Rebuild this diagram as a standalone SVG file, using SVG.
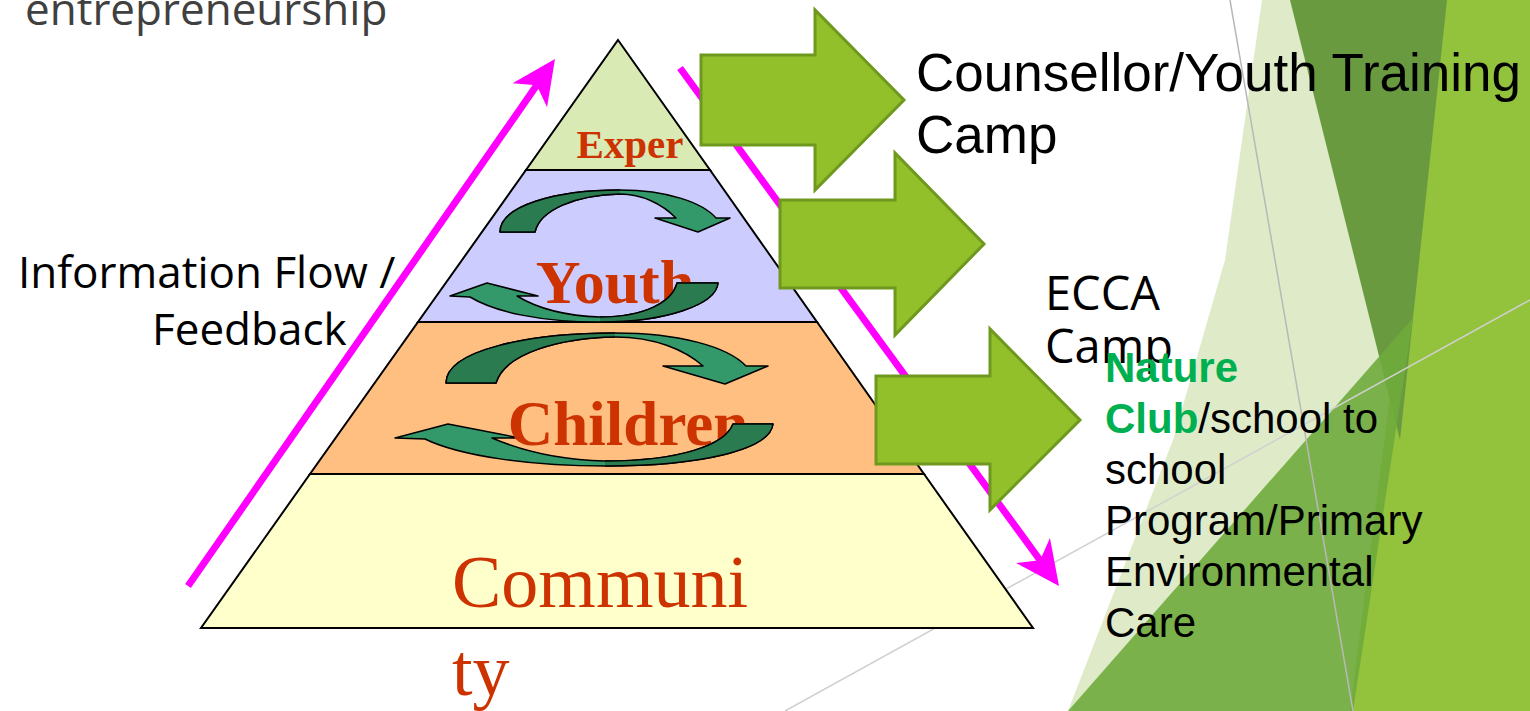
<svg xmlns="http://www.w3.org/2000/svg" width="1530" height="711" viewBox="0 0 1530 711">
<defs>
<style>
.layer{stroke:#000;stroke-width:2;stroke-linejoin:miter}
.lbl{font-family:"Liberation Serif","Times New Roman",serif;fill:#cc3300}
.b{font-weight:bold}
.lt{fill:#34996a;stroke:#000;stroke-width:1.5;stroke-linejoin:round}
.dkf{fill:#2a7b50;stroke:none}
.dks{fill:none;stroke:#000;stroke-width:1.5;stroke-linejoin:round}
.mag{stroke:#ff00ff;stroke-width:7;fill:none;marker-end:url(#mh)}
.blk{fill:#92c02a;stroke:#6e981e;stroke-width:3;stroke-linejoin:miter}
.os{font-family:"Open Sans","Noto Sans",sans-serif}
.ar{font-family:"Liberation Sans",Arial,sans-serif}
</style>
<marker id="mh" markerUnits="userSpaceOnUse" markerWidth="46" markerHeight="44" viewBox="0 0 46 44" refX="13" refY="22" orient="auto">
<path d="M1,1 L45,22 L1,43 L13,22 Z" fill="#ff00ff"/>
</marker>
</defs>
<rect width="1530" height="711" fill="#ffffff"/>

<g id="background">
<polygon points="1262,0 1530,0 1530,711 1068,711 1173,440 1225,260" fill="#dfebc8"/>
<polygon points="1440,0 1530,0 1530,711 1350,711" fill="#93c23c"/>
<polygon points="1290,0 1447,0 1400,440" fill="#6a9a3f"/>
<polygon points="1068,711 1413,318 1353,711" fill="#6fab3c" opacity="0.9"/>
<line x1="1230" y1="0" x2="1353" y2="711" stroke="#b8b8b8" stroke-width="1.5"/>
<line x1="785" y1="711" x2="1530" y2="300" stroke="#d0d0d0" stroke-width="1.5"/>
</g>

<text class="os" x="25" y="25" font-size="44" fill="#404040">entrepreneurship</text>

<g id="community">
<polygon class="layer" points="310,474 924,474 1033,628 201,628" fill="#ffffcc"/>
<text class="lbl" x="452" y="607" font-size="74">Communi</text>
<text class="lbl" x="452" y="695" font-size="74">ty</text>
</g>
<g id="children">
<polygon class="layer" points="418,322 817,322 924,474 310,474" fill="#ffbf80"/>
</g>
<g id="youth">
<polygon class="layer" points="526,170 710,170 817,322 418,322" fill="#ccccff"/>
</g>
<g id="exper">
<polygon class="layer" points="618,40 710,170 526,170" fill="#d9eab5"/>
<text class="lbl b" x="630" y="158" font-size="41" text-anchor="middle">Exper</text>
</g>

<g id="cycles">
<path class="lt" d="M500,232 C500,206 555,190 620,190 C668,190 703,203 716,218 L730,218 L698,232 L655,218 L676,218 C662,204 642,194 620,194 C575,195 540,210 535,232 Z"/>
<path class="dkf" d="M500,232 C500,206 555,190 620,190 L620,194 C575,195 540,210 535,232 Z"/>
<path class="dks" d="M620,190 C555,190 500,206 500,232 L535,232 C540,210 575,195 620,194"/>
<path class="lt" d="M450,296 L487,283 L538,296 L517,296 C540,310 570,316 600,317 C645,317 672,302 677,283 L718,283 C716,305 665,322 600,322 C540,322 495,312 470,297 Z"/>
<path class="lt" d="M446,383 C446,350 530,333 615,333 C680,333 728,347 746,366 L768,366 L725,384 L663,366 L703,366 C685,350 655,337 615,337 C560,338 505,353 496,383 Z"/>
<path class="dkf" d="M446,383 C446,350 530,333 615,333 L615,337 C560,338 505,353 496,383 Z"/>
<path class="dks" d="M615,333 C530,333 446,350 446,383 L496,383 C505,353 560,338 615,337"/>
<path class="lt" d="M395,438 L448,424 L520,438 L492,438 C525,452 565,460 605,461 C680,461 725,445 733,424 L773,424 C770,450 700,466 605,466 C530,466 460,456 425,439 Z"/>
</g>

<text id="youth-label" class="lbl b" x="615" y="303" font-size="62" text-anchor="middle">Youth</text>
<text id="children-label" class="lbl b" x="628" y="445" font-size="63" text-anchor="middle">Children</text>

<g id="cycles-front">
<path class="dkf" d="M600,317 C645,317 672,302 677,283 L718,283 C716,305 665,322 600,322 Z"/>
<path class="dks" d="M600,317 C645,317 672,302 677,283 L718,283 C716,305 665,322 600,322"/>
<path class="dkf" d="M605,461 C680,461 725,445 733,424 L773,424 C770,450 700,466 605,466 Z"/>
<path class="dks" d="M605,461 C680,461 725,445 733,424 L773,424 C770,450 700,466 605,466"/>
</g>

<g id="feedback-label">
<text class="os" x="18" y="288" font-size="44" fill="#000">Information Flow /</text>
<text class="os" x="152" y="345" font-size="44" fill="#000">Feedback</text>
</g>

<g id="connectors">
<line class="mag" x1="188" y1="586" x2="536.7" y2="85.3"/>
<line class="mag" x1="680" y1="68" x2="1040.1" y2="560.2"/>
<polygon class="blk" points="701,55 815,55 815,10 904,100 815,190 815,145 701,145"/>
<polygon class="blk" points="780,200 895,200 895,153 984,244 895,335 895,288 780,288"/>
<polygon class="blk" points="876,376 990,376 990,329 1080,420 990,510 990,464 876,464"/>
</g>

<g id="counsellor">
<text class="ar" x="916" y="91" font-size="53" fill="#000">Counsellor/Youth Training</text>
<text class="ar" x="916" y="153" font-size="53" fill="#000">Camp</text>
</g>
<g id="ecca">
<text class="os" x="1045" y="310" font-size="47" fill="#000">ECCA</text>
<text class="os" x="1045" y="363" font-size="47" fill="#000">Camp</text>
</g>
<g id="nature-club" class="ar" font-size="42">
<text x="1105" y="382" fill="#00b050" font-weight="bold">Nature</text>
<text x="1105" y="433"><tspan fill="#00b050" font-weight="bold">Club</tspan><tspan fill="#000">/school to</tspan></text>
<text x="1105" y="484" fill="#000">school</text>
<text x="1105" y="535" fill="#000">Program/Primary</text>
<text x="1105" y="586" fill="#000">Environmental</text>
<text x="1105" y="637" fill="#000">Care</text>
</g>
</svg>
